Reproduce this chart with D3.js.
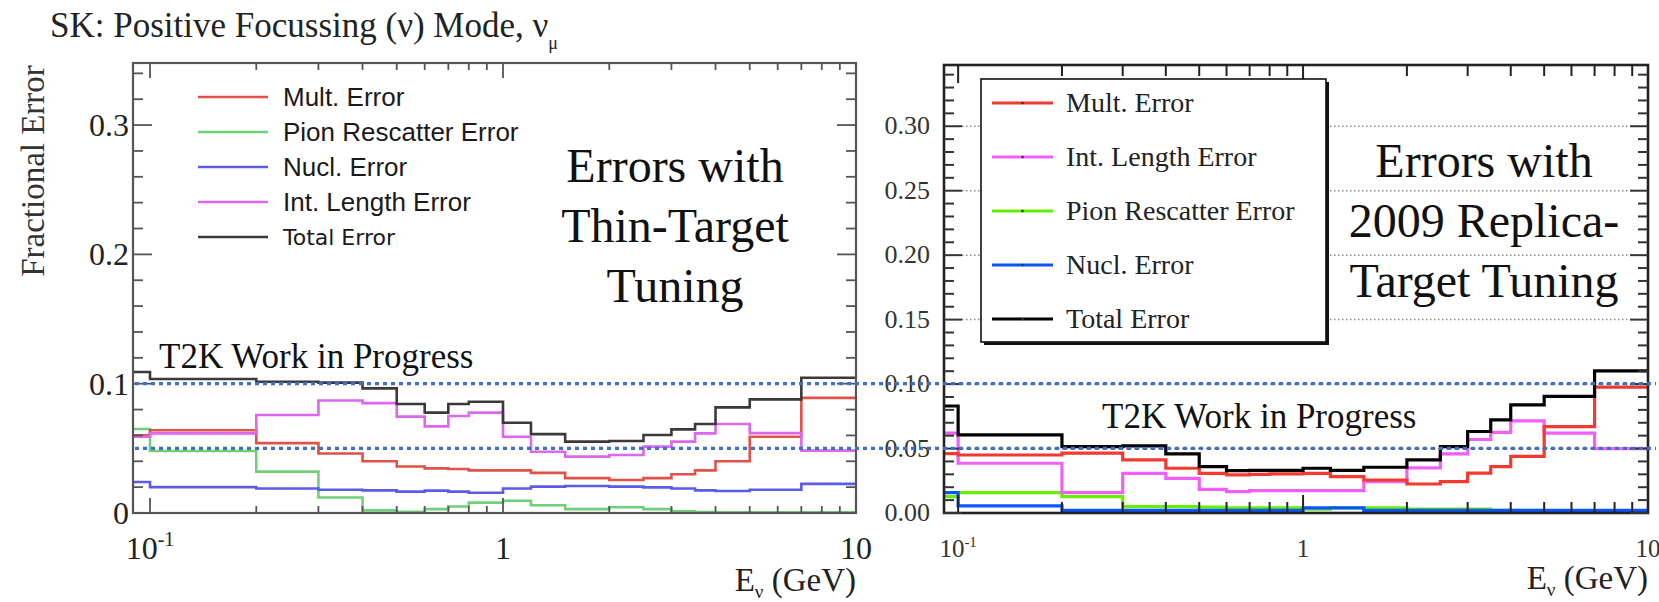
<!DOCTYPE html>
<html>
  <head>
    <meta charset="utf-8">
    <script type="text/javascript" src="https://cdn.jsdelivr.net/npm/d3@7/dist/d3.min.js"></script>
    <style>
      body { margin: 0; background: #fff; }
      svg { display: block; }
      .serif { font-family: "Liberation Serif", "Times New Roman", serif; }
      .sans { font-family: "Liberation Sans", Arial, sans-serif; }
    </style>
  </head>
  <body>
    <script type="text/javascript">
      // Bin edges (GeV), first bin starts at 0 and is clipped by the log axis
      var binEdges = [0, 0.1, 0.2, 0.3, 0.4, 0.5, 0.6, 0.7, 0.8, 1.0, 1.2, 1.5, 2.0, 2.5, 3.0, 3.5, 4.0, 5.0, 7.0, 10.0];

      // Left: thin-target tuning
      var thinMult  = [0.060, 0.064, 0.054, 0.046, 0.040, 0.036, 0.0345, 0.034, 0.033, 0.033, 0.031, 0.027, 0.0255, 0.027, 0.030, 0.033, 0.040, 0.059, 0.089];
      var thinPion  = [0.065, 0.048, 0.032, 0.012, 0.002, 0.001, 0.003, 0.005, 0.008, 0.0095, 0.006, 0.003, 0.0045, 0.003, 0.0013, 0.0008, 0.0005, 0.0005, 0.0005];
      var thinNucl  = [0.024, 0.020, 0.019, 0.018, 0.0175, 0.0165, 0.0173, 0.0165, 0.0157, 0.019, 0.0204, 0.0209, 0.0204, 0.0198, 0.019, 0.0175, 0.017, 0.018, 0.0225];
      var thinInt   = [0.059, 0.0616, 0.0758, 0.087, 0.085, 0.0745, 0.067, 0.075, 0.0776, 0.059, 0.0474, 0.0436, 0.0448, 0.0513, 0.0552, 0.0616, 0.0688, 0.0618, 0.0482];
      var thinTotal = [0.109, 0.1036, 0.1015, 0.1008, 0.0964, 0.0843, 0.0776, 0.0843, 0.086, 0.0698, 0.061, 0.0552, 0.0557, 0.0603, 0.0647, 0.0688, 0.0817, 0.0879, 0.1046];

      // Right: 2009 replica-target tuning
      var repMult  = [0.046, 0.045, 0.0464, 0.0412, 0.0347, 0.0308, 0.0295, 0.030, 0.0303, 0.0308, 0.0282, 0.0256, 0.0225, 0.0243, 0.031, 0.036, 0.044, 0.067, 0.0976];
      var repInt   = [0.062, 0.0386, 0.0158, 0.0308, 0.0269, 0.0184, 0.0166, 0.0174, 0.0174, 0.0174, 0.0174, 0.0243, 0.035, 0.0458, 0.057, 0.0625, 0.0715, 0.062, 0.050];
      var repPion  = [0.0127, 0.0158, 0.0127, 0.005, 0.005, 0.0045, 0.004, 0.004, 0.004, 0.003, 0.004, 0.004, 0.003, 0.003, 0.003, 0.002, 0.002, 0.001, 0.001];
      var repNucl  = [0.0158, 0.0055, 0.002, 0.002, 0.002, 0.002, 0.002, 0.002, 0.002, 0.004, 0.004, 0.002, 0.002, 0.002, 0.002, 0.002, 0.002, 0.002, 0.002];
      var repTotal = [0.083, 0.0606, 0.0515, 0.052, 0.0458, 0.036, 0.0329, 0.033, 0.033, 0.0347, 0.033, 0.0355, 0.0412, 0.0515, 0.0632, 0.0723, 0.0839, 0.0904, 0.1103];

      // Reference lines
      var refLines = [0.1, 0.05];

      var thinLegend = ["Mult. Error", "Pion Rescatter Error", "Nucl. Error", "Int. Length Error", "Total Error"];
      var repLegend = ["Mult. Error", "Int. Length Error", "Pion Rescatter Error", "Nucl. Error", "Total Error"];
      var leftYTicks = [0, 0.1, 0.2, 0.3];
      var rightYTicks = [0, 0.05, 0.1, 0.15, 0.2, 0.25, 0.3];

      var width = 1659, height = 602;
      var svg = d3.select("body").append("svg")
                  .attr("width", width)
                  .attr("height", height);

      // Scales
      var xL = d3.scaleLog().domain([0.0895, 10]).range([133, 856]);
      var yL = d3.scaleLinear().domain([0, 0.348]).range([513, 63]);
      var xR = d3.scaleLog().domain([0.091, 10]).range([944, 1648]);
      var yR = d3.scaleLinear().domain([0, 0.3475]).range([513, 65]);

      function stepPath(x, y, vals) {
        var pts = vals.map(function(v, i) {
          return [Math.max(binEdges[i], x.domain()[0]), v];
        });
        pts.push([binEdges[binEdges.length - 1], vals[vals.length - 1]]);
        return d3.line()
                 .x(function(d) { return x(d[0]); })
                 .y(function(d) { return y(d[1]); })
                 .curve(d3.curveStepAfter)(pts);
      }
      function isDecade(t) { return Math.abs(Math.log10(t) - Math.round(Math.log10(t))) < 1e-6; }

      // Title
      var title = svg.append("text")
         .attr("class", "serif")
         .attr("x", 50).attr("y", 37)
         .attr("font-size", 35)
         .attr("fill", "#222")
         .text("SK: Positive Focussing (ν) Mode, ν");
      title.append("tspan").attr("font-size", 18).attr("dy", 12).text("μ");

      svg.append("text")
         .attr("class", "serif")
         .attr("transform", "translate(44,171) rotate(-90)")
         .attr("text-anchor", "middle")
         .attr("font-size", 33)
         .attr("fill", "#333")
         .text("Fractional Error");

      // ---------- LEFT PANEL ----------
      var left = svg.append("g");
      svg.append("clipPath").attr("id", "clipL").append("rect")
         .attr("x", xL.range()[0]).attr("y", yL.range()[1])
         .attr("width", xL.range()[1] - xL.range()[0])
         .attr("height", yL.range()[0] - yL.range()[1]);

      var legColors = { "Mult. Error": "#e2504a", "Pion Rescatter Error": "#6fd07a",
                        "Nucl. Error": "#5b5be6", "Int. Length Error": "#dc66ee", "Total Error": "#3a3a3a" };
      var thinSeries = [
        { vals: thinPion,  color: legColors["Pion Rescatter Error"] },
        { vals: thinNucl,  color: legColors["Nucl. Error"] },
        { vals: thinMult,  color: legColors["Mult. Error"] },
        { vals: thinInt,   color: legColors["Int. Length Error"] },
        { vals: thinTotal, color: legColors["Total Error"] }
      ];
      left.append("g").attr("clip-path", "url(#clipL)")
          .selectAll("path").data(thinSeries).enter().append("path")
          .attr("d", function(s) { return stepPath(xL, yL, s.vals); })
          .attr("fill", "none")
          .attr("stroke", function(s) { return s.color; })
          .attr("stroke-width", 2.6);

      // Frame
      left.append("rect")
          .attr("x", xL.range()[0]).attr("y", yL.range()[1])
          .attr("width", xL.range()[1] - xL.range()[0])
          .attr("height", yL.range()[0] - yL.range()[1])
          .attr("fill", "none").attr("stroke", "#555").attr("stroke-width", 2.2);

      // x ticks (bottom and top)
      var xTicksL = xL.ticks().filter(function(t) { return t >= 0.1 - 1e-9; });
      [[yL.range()[0], -1], [yL.range()[1], 1]].forEach(function(side) {
        left.selectAll(null).data(xTicksL).enter().append("line")
            .attr("x1", function(d) { return xL(d); })
            .attr("x2", function(d) { return xL(d); })
            .attr("y1", side[0])
            .attr("y2", function(d) { return side[0] + side[1] * (isDecade(d) ? 15 : 7); })
            .attr("stroke", "#555").attr("stroke-width", 1.8);
      });
      // y ticks (left and right)
      var yMinorL = d3.range(0, 0.35, 0.02);
      [[xL.range()[0], 1], [xL.range()[1], -1]].forEach(function(side) {
        left.selectAll(null).data(yMinorL).enter().append("line")
            .attr("x1", side[0])
            .attr("x2", function(d) { return side[0] + side[1] * (Math.abs(d * 10 - Math.round(d * 10)) < 1e-6 ? 19 : 10); })
            .attr("y1", function(d) { return yL(d); })
            .attr("y2", function(d) { return yL(d); })
            .attr("stroke", "#555").attr("stroke-width", 1.8);
      });
      left.selectAll(null).data(leftYTicks).enter().append("text")
          .attr("class", "serif")
          .attr("x", xL.range()[0] - 4)
          .attr("y", function(d) { return yL(d) + 11; })
          .attr("text-anchor", "end")
          .attr("font-size", 32).attr("fill", "#222")
          .text(function(d) { return d === 0 ? "0" : d3.format(".1f")(d); });

      // x tick labels
      var lbl = left.append("text").attr("class", "serif")
          .attr("x", xL(0.1)).attr("y", 559).attr("text-anchor", "middle")
          .attr("font-size", 32).attr("fill", "#222");
      lbl.append("tspan").text("10");
      lbl.append("tspan").attr("font-size", 20).attr("dy", -13).text("-1");
      left.append("text").attr("class", "serif")
          .attr("x", xL(1)).attr("y", 559).attr("text-anchor", "middle")
          .attr("font-size", 32).attr("fill", "#222").text("1");
      left.append("text").attr("class", "serif")
          .attr("x", xL(10)).attr("y", 559).attr("text-anchor", "middle")
          .attr("font-size", 32).attr("fill", "#222").text("10");
      var xtL = left.append("text").attr("class", "serif")
          .attr("x", xL.range()[1]).attr("y", 591).attr("text-anchor", "end")
          .attr("font-size", 33).attr("fill", "#222");
      xtL.append("tspan").text("E");
      xtL.append("tspan").attr("font-size", 19).attr("dy", 7).text("ν");
      xtL.append("tspan").attr("dy", -7).text(" (GeV)");

      // Legend (no box)
      var legL = left.selectAll(null).data(thinLegend).enter().append("g")
          .attr("transform", function(d, i) { return "translate(0," + (97 + i * 35) + ")"; });
      legL.append("line").attr("x1", 198).attr("x2", 268).attr("y1", 0).attr("y2", 0)
          .attr("stroke", function(d) { return legColors[d]; }).attr("stroke-width", 2.6);
      legL.append("text")
          .attr("font-family", function(d) { return d === "Total Error" ? "DejaVu Sans, sans-serif" : "Liberation Sans, Arial, sans-serif"; })
          .attr("x", 283).attr("y", function(d) { return d === "Total Error" ? 8 : 9; })
          .attr("font-size", function(d) { return d === "Total Error" ? 22 : 26; })
          .attr("fill", "#1a1a1a")
          .text(function(d) { return d; });

      // Big annotation
      ["Errors with", "Thin-Target", "Tuning"].forEach(function(t, i) {
        left.append("text").attr("class", "serif")
            .attr("x", 675).attr("y", 182 + i * 60)
            .attr("text-anchor", "middle").attr("font-size", 48).attr("fill", "#111")
            .text(t);
      });
      left.append("text").attr("class", "serif")
          .attr("x", 159).attr("y", 368)
          .attr("font-size", 35).attr("fill", "#111")
          .text("T2K Work in Progress");

      // ---------- RIGHT PANEL ----------
      var right = svg.append("g");
      svg.append("clipPath").attr("id", "clipR").append("rect")
         .attr("x", xR.range()[0]).attr("y", yR.range()[1])
         .attr("width", xR.range()[1] - xR.range()[0])
         .attr("height", yR.range()[0] - yR.range()[1]);

      // gray dotted grid
      right.selectAll(null).data(rightYTicks.slice(1)).enter().append("line")
           .attr("x1", xR.range()[0] + 18).attr("x2", xR.range()[1] - 18)
           .attr("y1", function(d) { return yR(d); })
           .attr("y2", function(d) { return yR(d); })
           .attr("stroke", "#888").attr("stroke-width", 1.5)
           .attr("stroke-dasharray", "1.5,2.5");

      var repColors = { "Mult. Error": "#f23a2e", "Int. Length Error": "#f060f8",
                        "Pion Rescatter Error": "#66ee00", "Nucl. Error": "#0a55ff", "Total Error": "#000" };
      var repSeries = [
        { vals: repPion,  color: repColors["Pion Rescatter Error"] },
        { vals: repNucl,  color: repColors["Nucl. Error"] },
        { vals: repInt,   color: repColors["Int. Length Error"] },
        { vals: repMult,  color: repColors["Mult. Error"] },
        { vals: repTotal, color: repColors["Total Error"] }
      ];
      right.append("g").attr("clip-path", "url(#clipR)")
           .selectAll("path").data(repSeries).enter().append("path")
           .attr("d", function(s) { return stepPath(xR, yR, s.vals); })
           .attr("fill", "none")
           .attr("stroke", function(s) { return s.color; })
           .attr("stroke-width", 3.2);

      right.append("rect")
           .attr("x", xR.range()[0]).attr("y", yR.range()[1])
           .attr("width", xR.range()[1] - xR.range()[0])
           .attr("height", yR.range()[0] - yR.range()[1])
           .attr("fill", "none").attr("stroke", "#222").attr("stroke-width", 2.6);

      var xTicksR = xR.ticks().filter(function(t) { return t >= 0.1 - 1e-9; });
      [[yR.range()[0], -1], [yR.range()[1], 1]].forEach(function(side) {
        right.selectAll(null).data(xTicksR).enter().append("line")
             .attr("x1", function(d) { return xR(d); })
             .attr("x2", function(d) { return xR(d); })
             .attr("y1", side[0])
             .attr("y2", function(d) { return side[0] + side[1] * (isDecade(d) ? 18 : 11); })
             .attr("stroke", "#222").attr("stroke-width", 2);
      });
      var yMinorR = d3.range(0, 0.345, 0.01);
      [[xR.range()[0], 1], [xR.range()[1], -1]].forEach(function(side) {
        right.selectAll(null).data(yMinorR).enter().append("line")
             .attr("x1", side[0])
             .attr("x2", function(d) { return side[0] + side[1] * (Math.abs(d * 20 - Math.round(d * 20)) < 1e-6 ? 18 : 10); })
             .attr("y1", function(d) { return yR(d); })
             .attr("y2", function(d) { return yR(d); })
             .attr("stroke", "#333").attr("stroke-width", 2);
      });
      right.selectAll(null).data(rightYTicks).enter().append("text")
           .attr("class", "serif")
           .attr("x", xR.range()[0] - 14)
           .attr("y", function(d) { return yR(d) + 8; })
           .attr("text-anchor", "end")
           .attr("font-size", 26).attr("fill", "#333")
           .text(function(d) { return d3.format(".2f")(d); });

      var lblR = right.append("text").attr("class", "serif")
          .attr("x", xR(0.1)).attr("y", 557).attr("text-anchor", "middle")
          .attr("font-size", 25).attr("fill", "#333");
      lblR.append("tspan").text("10");
      lblR.append("tspan").attr("font-size", 15).attr("dy", -10).text("-1");
      right.append("text").attr("class", "serif")
           .attr("x", xR(1)).attr("y", 557).attr("text-anchor", "middle")
           .attr("font-size", 25).attr("fill", "#333").text("1");
      right.append("text").attr("class", "serif")
           .attr("x", xR(10)).attr("y", 557).attr("text-anchor", "middle")
           .attr("font-size", 25).attr("fill", "#333").text("10");
      var xtR = right.append("text").attr("class", "serif")
          .attr("x", xR.range()[1]).attr("y", 589).attr("text-anchor", "end")
          .attr("font-size", 33).attr("fill", "#222");
      xtR.append("tspan").text("E");
      xtR.append("tspan").attr("font-size", 19).attr("dy", 7).text("ν");
      xtR.append("tspan").attr("dy", -7).text(" (GeV)");

      // Legend box with ROOT-style shadow
      var lgx = 981, lgy = 79, lgw = 345, lgh = 263;
      right.append("rect").attr("x", lgx + 3).attr("y", lgy + 3).attr("width", lgw).attr("height", lgh)
           .attr("fill", "#111");
      right.append("rect").attr("x", lgx).attr("y", lgy).attr("width", lgw).attr("height", lgh)
           .attr("fill", "#fff").attr("stroke", "#111").attr("stroke-width", 1.6);
      var legR = right.selectAll(null).data(repLegend).enter().append("g")
          .attr("transform", function(d, i) { return "translate(0," + (103 + i * 54) + ")"; });
      legR.append("line").attr("x1", 992).attr("x2", 1053).attr("y1", 0).attr("y2", 0)
          .attr("stroke", function(d) { return repColors[d]; }).attr("stroke-width", 3.2);
      legR.append("circle").attr("cx", 1022.5).attr("cy", 0).attr("r", 1.3).attr("fill", "#333");
      legR.append("text").attr("class", "serif")
          .attr("x", 1066).attr("y", 9)
          .attr("font-size", 28).attr("fill", "#222")
          .text(function(d) { return d; });

      ["Errors with", "2009 Replica-", "Target Tuning"].forEach(function(t, i) {
        right.append("text").attr("class", "serif")
             .attr("x", 1484).attr("y", 177 + i * 60)
             .attr("text-anchor", "middle").attr("font-size", 48).attr("fill", "#111")
             .text(t);
      });
      right.append("text").attr("class", "serif")
           .attr("x", 1102).attr("y", 428)
           .attr("font-size", 35).attr("fill", "#111")
           .text("T2K Work in Progress");

      // Blue dotted reference lines across both panels
      svg.selectAll(null).data(refLines).enter().append("line")
         .attr("x1", 135).attr("x2", 1656)
         .attr("y1", function(d) { return yL(d); })
         .attr("y2", function(d) { return yL(d); })
         .attr("stroke", "#3d6fd1").attr("stroke-width", 3.2)
         .attr("stroke-dasharray", "4,4");
    </script>
  </body>
</html>
